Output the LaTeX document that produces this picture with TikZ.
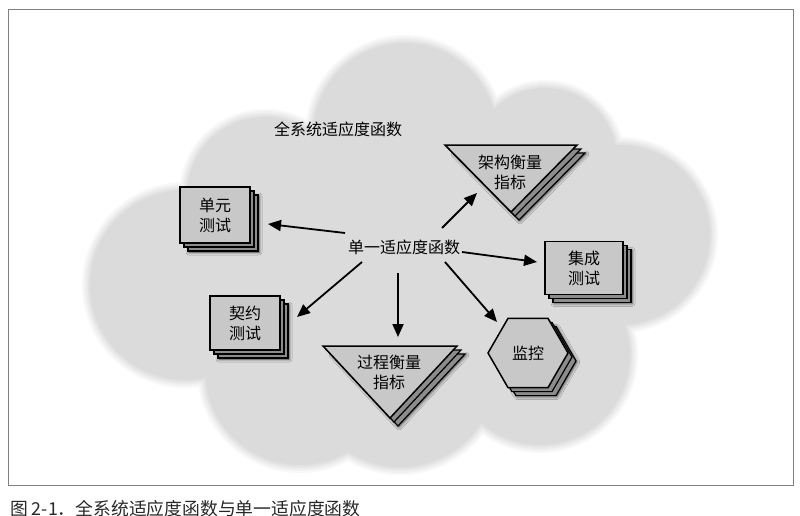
\documentclass[tikz,border=0pt]{standalone}
\usepackage{fontspec}
\setmainfont{Noto Sans CJK SC}
\usetikzlibrary{arrows.meta,shapes.geometric,shadows,shadows.blur}

\definecolor{cloudfill}{RGB}{219,219,219}
\definecolor{cloudhalo0}{RGB}{248,248,248}
\definecolor{cloudhalo1}{RGB}{241,241,241}
\definecolor{cloudhalo2}{RGB}{234,234,234}
\definecolor{cloudhalo3}{RGB}{226,226,226}
\definecolor{cardfront}{RGB}{200,200,200}
\definecolor{cardback}{RGB}{140,140,140}
\definecolor{framegray}{RGB}{128,128,128}
\definecolor{captiongray}{RGB}{40,40,40}

% the cloud is a union of discs; #2 widens every disc (used for the soft rim)
\newcommand\cloudpath[2]{%
  \fill[#1] \foreach \cx/\cy/\cr in {405/135/92, 265/195/78, 185/285/95,
      300/370/95, 400/370/97, 540/355/90, 620/235/90, 545/160/72, 420/260/150}
    {(\cx,\cy) circle[radius=\cr+#2]};}

\tikzset{
  txt/.style={font=\fontsize{16}{20}\selectfont, align=center, inner sep=0pt},
  stackshadow/.style={
    blur shadow={shadow xshift=9pt, shadow yshift=-9pt, shadow blur radius=3pt, shadow opacity=70},
    copy shadow={shadow xshift=8pt, shadow yshift=-8pt, fill=cardback, draw=black, line width=1.2pt},
    copy shadow={shadow xshift=4pt, shadow yshift=-4pt, fill=cardback, draw=black, line width=1.2pt}},
  card/.style={txt, draw=black, line width=1.5pt, fill=cardfront, stackshadow},
  tri/.style={draw=black, line width=1.5pt, fill=cardfront, line join=miter, stackshadow},
  arr/.style={draw=black, line width=1.8pt, -{Triangle[length=13pt,width=11pt]}},
}

\begin{document}
\begin{tikzpicture}[x=1pt,y=-1pt]
\useasboundingbox (0,0) rectangle (800,516);
\fill[white] (0,0) rectangle (800,516);

% frame
\draw[framegray, line width=1pt] (8,10) rectangle (793,485);

% cloud with a soft rim
\cloudpath{cloudhalo0}{8}
\cloudpath{cloudhalo1}{6}
\cloudpath{cloudhalo2}{4}
\cloudpath{cloudhalo3}{2}
\cloudpath{cloudfill}{0}

\node[txt] (sys) at (338,129) {全系统适应度函数};
\node[txt] (fc) at (404,247) {单一适应度函数};

% test cards
\node[card, minimum width=70pt, minimum height=56pt] (unit) at (215,215) {单元\\测试};
\node[card, minimum width=70pt, minimum height=54pt] (contract) at (245,323) {契约\\测试};
\node[card, minimum width=78pt, minimum height=53pt] (integ) at (584,268) {集成\\测试};

% monitoring hexagon
\node[txt, regular polygon, regular polygon sides=6, minimum size=80pt,
      draw=black, line width=1.5pt, fill=cardfront, stackshadow] (mon) at (528,353) {监控};

% metric triangles
\path[tri] (445,145) -- (577,145) -- (511,212) -- cycle;
\node[txt] (arch) at (510,172) {架构衡量\\指标};
\path[tri] (323,346) -- (457,346) -- (390,418) -- cycle;
\node[txt] (proc) at (389,372) {过程衡量\\指标};

% connector ends
\coordinate (s1) at (345,233); \coordinate (e1) at (268,224);
\coordinate (s2) at (362,262); \coordinate (e2) at (297,317);
\coordinate (s3) at (398,273); \coordinate (e3) at (398,337);
\coordinate (s4) at (442,228); \coordinate (e4) at (477,193);
\coordinate (s5) at (462,252); \coordinate (e5) at (537,262);
\coordinate (s6) at (445,262); \coordinate (e6) at (497,322);

\draw[arr] (s1) -- (e1);
\draw[arr] (s2) -- (e2);
\draw[arr] (s3) -- (e3);
\draw[arr] (s4) -- (e4);
\draw[arr] (s5) -- (e5);
\draw[arr] (s6) -- (e6);

% caption
\node[anchor=base west, inner sep=0pt, text=captiongray,
      font=\fontsize{17.8}{18}\selectfont] (cap) at (10,515)
  {图 2-1．全系统适应度函数与单一适应度函数};
\end{tikzpicture}
\end{document}
